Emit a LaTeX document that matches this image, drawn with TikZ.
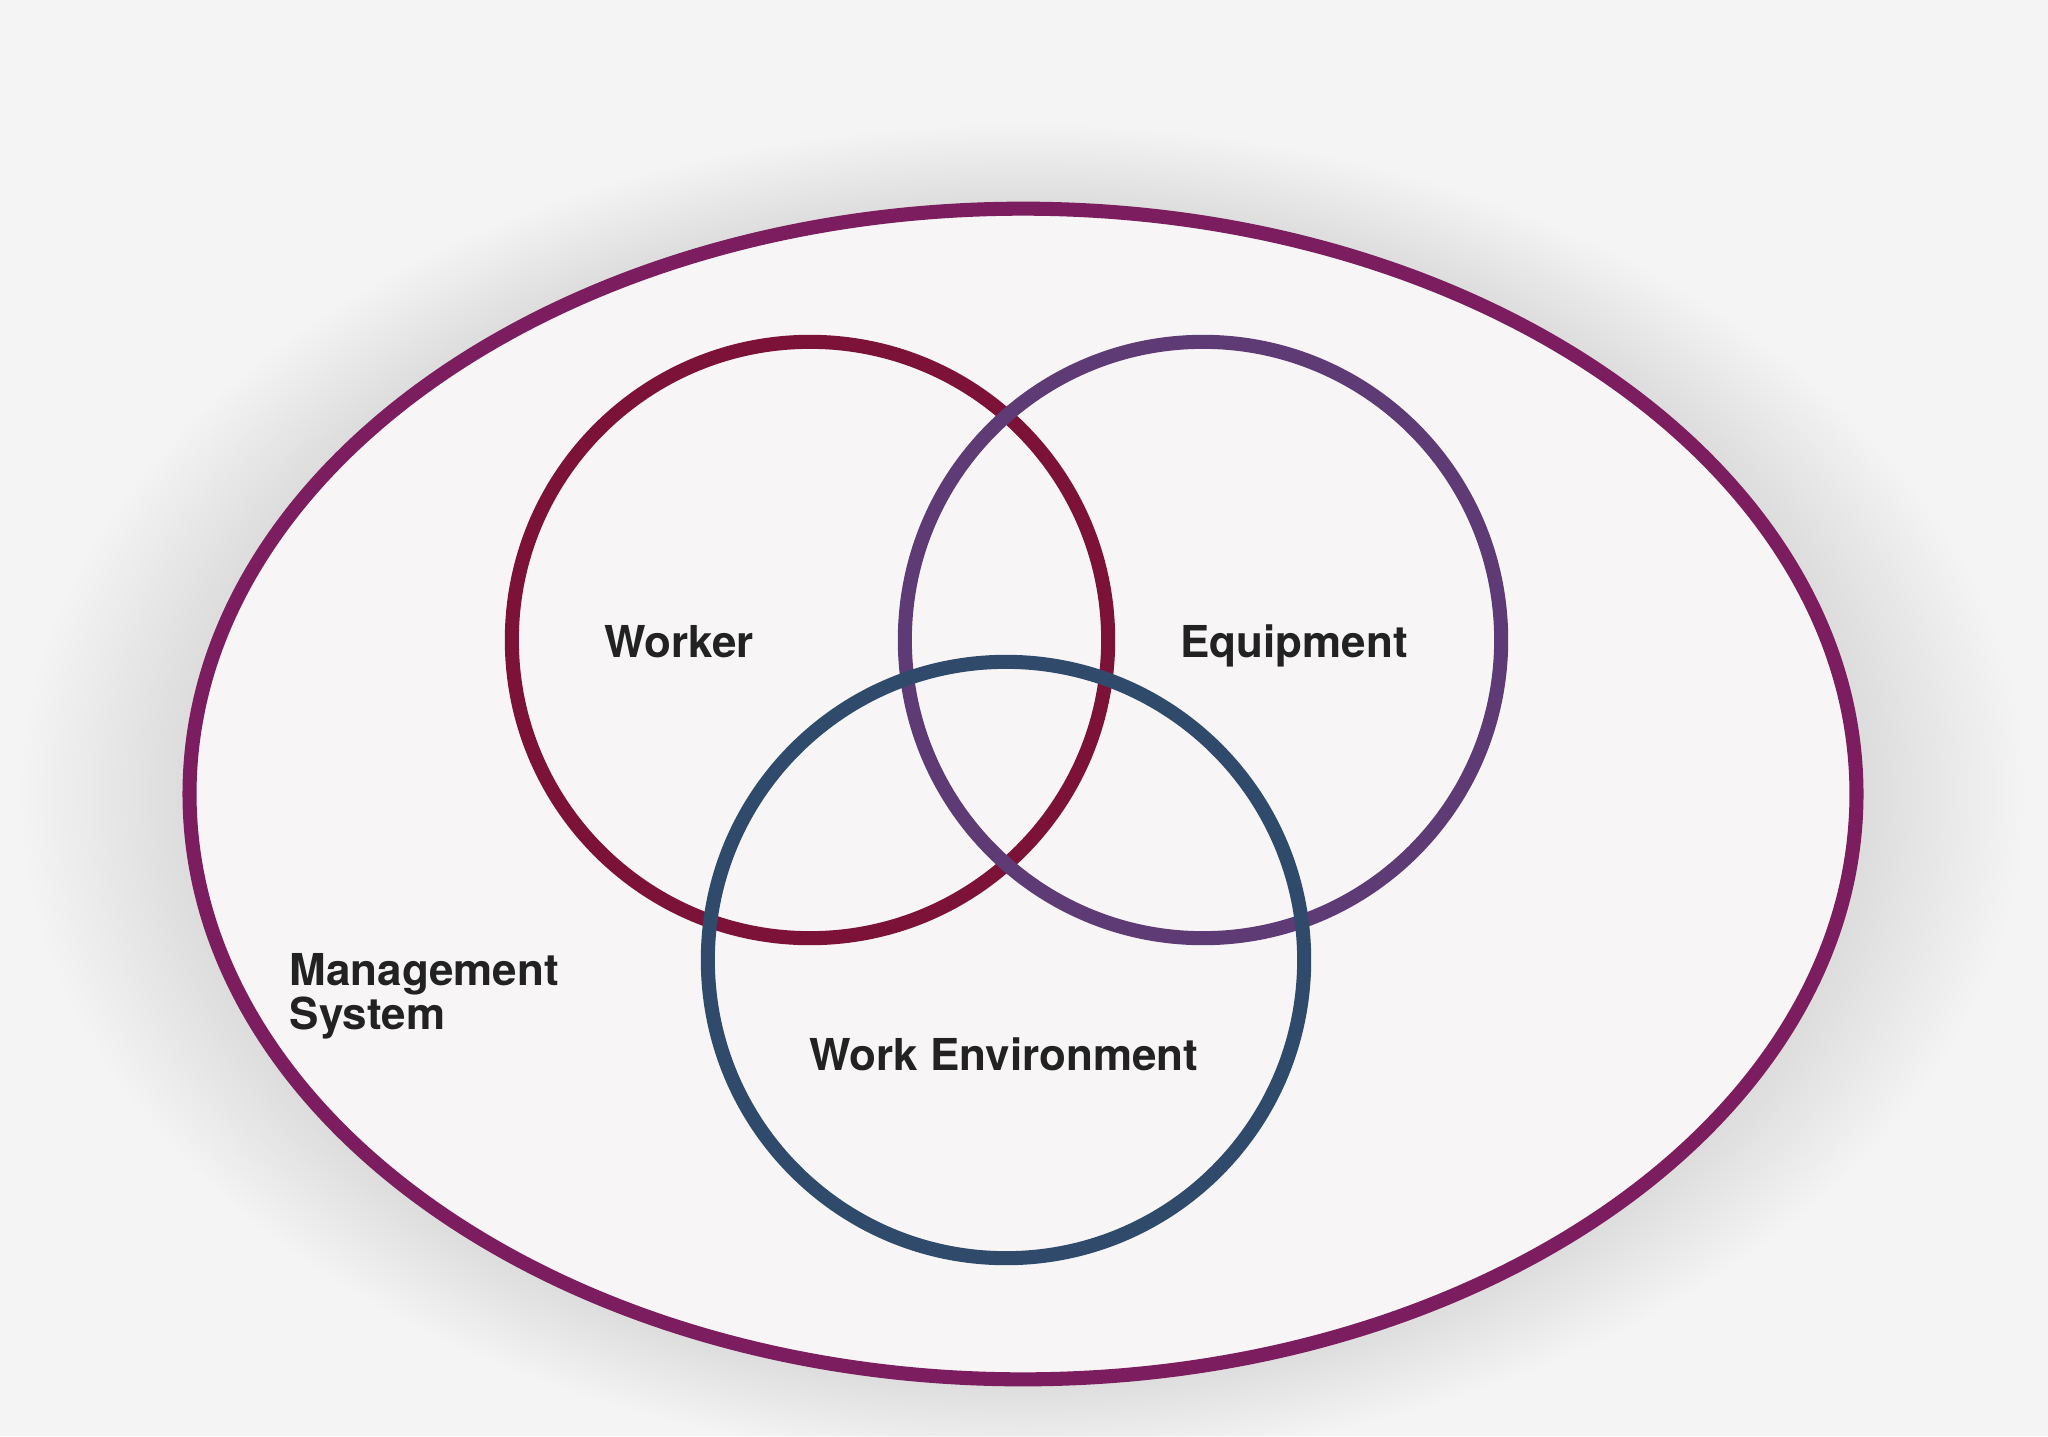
\documentclass[tikz,border=0pt]{standalone}
\usepackage{fontspec}
\setmainfont{TeX Gyre Heros}
\usetikzlibrary{shapes.geometric}
\definecolor{bgcol}{HTML}{F5F4F4}
\definecolor{insidecol}{HTML}{F7F5F6}
\definecolor{mgmtcol}{HTML}{7B1D5E}
\definecolor{workercol}{HTML}{7D1239}
\definecolor{equipcol}{HTML}{5F3B76}
\definecolor{envcol}{HTML}{2F4A6A}
\definecolor{labelcol}{HTML}{222222}
\begin{document}
\begin{tikzpicture}[x=0.01cm,y=-0.01cm] % 1 px = 0.1 mm, y вниз
\tikzstyle{ring} = [circle, line width=4pt, minimum size=5.96cm, inner sep=0pt] % малый круг
\tikzstyle{outer} = [ellipse, line width=4pt, minimum width=16.66cm, minimum height=11.70cm, inner sep=0pt] % большой овал
\tikzstyle{lbl} = [text=labelcol, inner sep=0pt, font=\fontsize{12.5}{12.5}\selectfont\bfseries] % подписи
\useasboundingbox[fill=bgcol] (0,0) rectangle (2048,1436);
% мягкая тень вокруг овала
\foreach \k in {1,...,24}
    \fill[black, opacity=0.0034] (1023,794) ellipse ({833+\k*7} and {585+\k*3.5});
\node[outer, draw=mgmtcol, fill=insidecol] (mgmt) at (1023,794) {};
\node[ring, draw=workercol] (worker) at (810,640) {};
\node[ring, draw=equipcol] (equip) at (1203,640) {};
\node[ring, draw=envcol] (env) at (1006,960) {};
% подписи
\node[lbl, anchor=base] (workertxt) at (679,657) {Worker};
\node[lbl, anchor=base] (equiptxt) at (1294,657) {Equipment};
\node[lbl, anchor=base] (envtxt) at (1004,1070) {Work Environment};
\node[lbl, anchor=base west, align=left] (mgmttxt) at (289,1029) {Management\\System};
\end{tikzpicture}
\end{document}
